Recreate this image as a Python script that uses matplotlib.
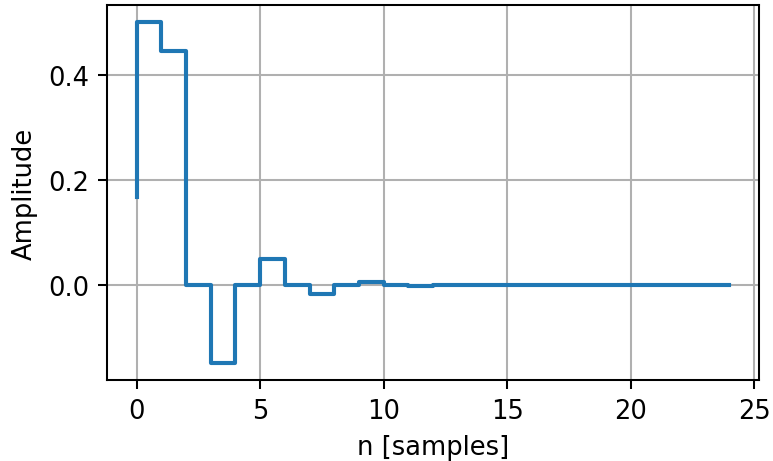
import matplotlib
matplotlib.use("Agg")
import matplotlib.pyplot as plt
import numpy as np

n = list(range(25))
h = [0.1667, 0.5, 0.4444, 0.0, -0.1481, 0.0, 0.0494, 0.0, -0.0165, 0.0,
     0.0055, 0.0, -0.0018, 0.0, 0.0006, 0.0, -0.0002, 0.0, 0.0001, 0.0,
     0.0, 0.0, 0.0, 0.0, 0.0]

dpi = 185
fig = plt.figure(figsize=(773 / dpi, 462 / dpi), dpi=dpi)
ax = fig.add_axes([107 / 773, 1 - 381 / 462, (759 - 107) / 773, (381 - 6) / 462])
ax.step(n, h, where='pre', color='#1f77b4', linewidth=1.6)
ax.grid(True, color='#b0b0b0', linewidth=0.8)
ax.set_xlabel('n [samples]')
ax.set_ylabel('Amplitude')
ax.set_xticks([0, 5, 10, 15, 20, 25])
ax.set_yticks([0.0, 0.2, 0.4])
fig.savefig('out.png', dpi=dpi)
